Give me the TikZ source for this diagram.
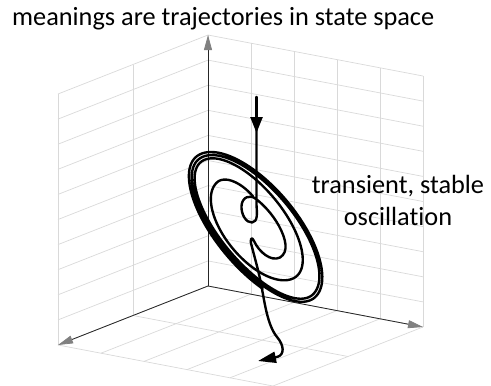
\documentclass[tikz,border=0pt]{standalone}
\usepackage{fontspec}
\setmainfont{Carlito}[Ligatures=NoCommon]
\usepackage{xcolor}
\definecolor{gridgray}{RGB}{217,217,217}
\definecolor{axisgray}{RGB}{128,128,128}
\usetikzlibrary{arrows.meta}

\begin{document}
\begin{tikzpicture}[x=1pt,y=-1pt,
  gridline/.style={gridgray, line width=0.7pt},
  axisline/.style={black!85, line width=0.8pt, -{Triangle[length=15pt,width=8pt,color=axisgray,fill=axisgray]}},
  traj/.style={black, line width=2.4pt, line cap=round, line join=round},
  txt/.style={font=\fontsize{26.3pt}{32pt}\selectfont, inner sep=0pt}]
  \useasboundingbox (0,0) rectangle (491,386);

  %% Corners of the box
  \coordinate (O) at (208,286);
  \coordinate (xend) at (58,345);
  \coordinate (yend) at (423,327);
  \coordinate (zend) at (208,35);

  %% Left wall grid
  \foreach \k in {0,...,10}
    \draw[gridline] (208,{286-25.1*\k}) -- (58,{345-25.1*\k});
  \foreach \j in {0,1,2}
    \draw[gridline] ({208-75*\j},{286+29.5*\j}) -- ({208-75*\j},{35+29.5*\j});

  %% Right wall grid
  \foreach \k in {0,...,10}
    \draw[gridline] (208,{286-25.1*\k}) -- (423,{327-25.1*\k});
  \foreach \j in {0,...,5}
    \draw[gridline] ({208+43*\j},{286+8.2*\j}) -- ({208+43*\j},{35+8.2*\j});

  %% Floor grid
  \foreach \j in {0,1,2}
    \draw[gridline] ({208-75*\j},{286+29.5*\j}) -- ({423-75*\j},{327+29.5*\j});
  \foreach \i in {0,...,5}
    \draw[gridline] ({208+43*\i},{286+8.2*\i}) -- ({58+43*\i},{345+8.2*\i});

  %% Axes
  \draw[axisline] (O) -- (zend);
  \draw[axisline] (O) -- (xend);
  \draw[axisline] (O) -- (yend);

  %% Spiral out to the oscillation
  \begin{scope}[shift={(256,228)}, rotate=-50]
    \draw[traj] plot[domain=90:180, samples=40, variable=\t] ({-26+34*cos(\t)}, {-18*sin(\t)})
      -- plot[domain=0:180, samples=70, variable=\t] ({1.5-61.5*cos(\t)}, {31*sin(\t)})
      -- plot[domain=0:180, samples=70, variable=\t] ({-11.5+74.5*cos(\t)}, {-33*sin(\t)})
      -- plot[domain=0:180, samples=70, variable=\t] ({0.75-86.75*cos(\t)}, {35*sin(\t)})
      -- plot[domain=0:180, samples=70, variable=\t] ({-1+88.5*cos(\t)}, {-38.5*sin(\t)})
      -- plot[domain=0:180, samples=70, variable=\t] ({0.75-90.25*cos(\t)}, {37.5*sin(\t)})
      -- plot[domain=0:180, samples=70, variable=\t] ({-1+92*cos(\t)}, {-41*sin(\t)})
      -- plot[domain=0:122, samples=50, variable=\t] ({1-94*cos(\t)}, {40*sin(\t)});
  \end{scope}

  %% Trajectory in, loop, inner ring and out
  \coordinate (start) at (256.5,97);
  \coordinate (tip) at (258,361);
  \draw[traj, -{Triangle[length=18pt,width=11pt]}] (start) -- (256.5,205)
    .. controls (257,213) and (258,222) .. (252,222.5)
    .. controls (246,223) and (241,214) .. (241.5,206)
    .. controls (242,197) and (250,194) .. (256,199)
    .. controls (264,205) and (273,215) .. (279,226)
    .. controls (286,239) and (289,252) .. (280,257.5)
    .. controls (271,262) and (259,252) .. (254,241)
    .. controls (252,236) and (249,238) .. (252,247)
    .. controls (255,259) and (259,272) .. (262,289)
    .. controls (265,305) and (268,326) .. (277,337)
    .. controls (284,345) and (285,355) .. (277,357)
    -- (tip);
  \draw[traj, -{Triangle[length=16pt,width=12pt]}] (start) -- (256.5,133);

  %% Labels
  \node[txt, anchor=base west] (title) at (12,25) {meanings are trajectories in state space};
  \node[txt, align=center] (osc) at (398,200) {transient, stable\\oscillation};
\end{tikzpicture}
\end{document}
